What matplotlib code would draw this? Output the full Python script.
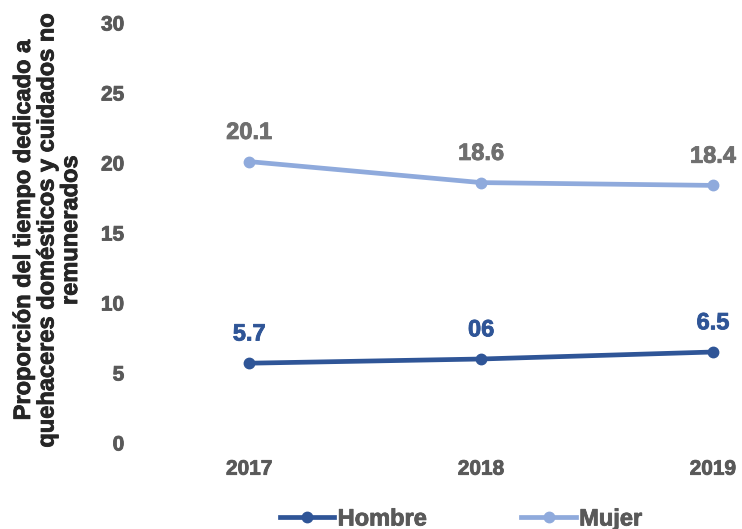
import matplotlib
matplotlib.use("Agg")
import matplotlib.pyplot as plt
import matplotlib.patheffects as pe

years = ["2017", "2018", "2019"]
hombre = [5.7, 6.0, 6.5]
mujer = [20.1, 18.6, 18.4]
hombre_labels = ["5.7", "06", "6.5"]
mujer_labels = ["20.1", "18.6", "18.4"]
yticks = [0, 5, 10, 15, 20, 25, 30]

plt.rcParams['font.family'] = ['Liberation Sans', 'DejaVu Sans']

W, H = 742, 529
fig = plt.figure(figsize=(W / 100, H / 100), dpi=100)
# axes in pixel terms: left 134, right 742, top 23, bottom 443
ax = fig.add_axes([134 / W, 1 - 443 / H, (742 - 134) / W, (443 - 23) / H])

def heavy(color):
    # a thin outline in the same colour makes the bold text a bit heavier
    return [pe.withStroke(linewidth=0.6, foreground=color)]

x = list(range(len(years)))
c_h = "#2f5597"
c_m = "#8faadc"
ax.plot(x, hombre, color=c_h, lw=3.4, marker="o", ms=7.5, label="Hombre")
ax.plot(x, mujer, color=c_m, lw=3.4, marker="o", ms=7.5, label="Mujer")

for xi, v, t in zip(x, hombre, hombre_labels):
    ax.annotate(t, (xi, v), xytext=(0, 21), textcoords="offset points",
                ha="center", va="center", fontsize=17, fontweight="bold", color=c_h,
                path_effects=heavy(c_h))
for xi, v, t in zip(x, mujer, mujer_labels):
    ax.annotate(t, (xi, v), xytext=(0, 21), textcoords="offset points",
                ha="center", va="center", fontsize=17, fontweight="bold", color="#6f6f6f",
                path_effects=heavy("#6f6f6f"))

ax.set_xlim(-0.497, 2.125)
ax.set_ylim(0, 30)
ax.set_yticks(yticks)
ax.set_xticks(x)
ax.set_xticklabels(years)
for s in ax.spines.values():
    s.set_visible(False)
ax.tick_params(axis="both", length=0, labelsize=15, labelcolor="#595959")
ax.tick_params(axis="x", pad=12)
ax.tick_params(axis="y", pad=7)
for lab in ax.get_xticklabels() + ax.get_yticklabels():
    lab.set_fontweight("bold")
    lab.set_path_effects(heavy("#595959"))

fig.text(47 / W, 1 - 230 / H,
         "Proporción del tiempo dedicado a\nquehaceres domésticos y cuidados no\nremunerados",
         rotation=90, ha="center", va="center", multialignment="center",
         fontsize=17, fontweight="bold", color="#262626", linespacing=1.03,
         path_effects=heavy("#262626"))

leg = fig.legend(loc="center", bbox_to_anchor=(461 / W, 1 - 519 / H), ncol=2,
                 frameon=False, fontsize=17, handlelength=2.3, handletextpad=0.15,
                 columnspacing=4.0)
for t in leg.get_texts():
    t.set_color("#595959")
    t.set_fontweight("bold")
    t.set_path_effects(heavy("#595959"))

fig.savefig("out.png", dpi=100)
